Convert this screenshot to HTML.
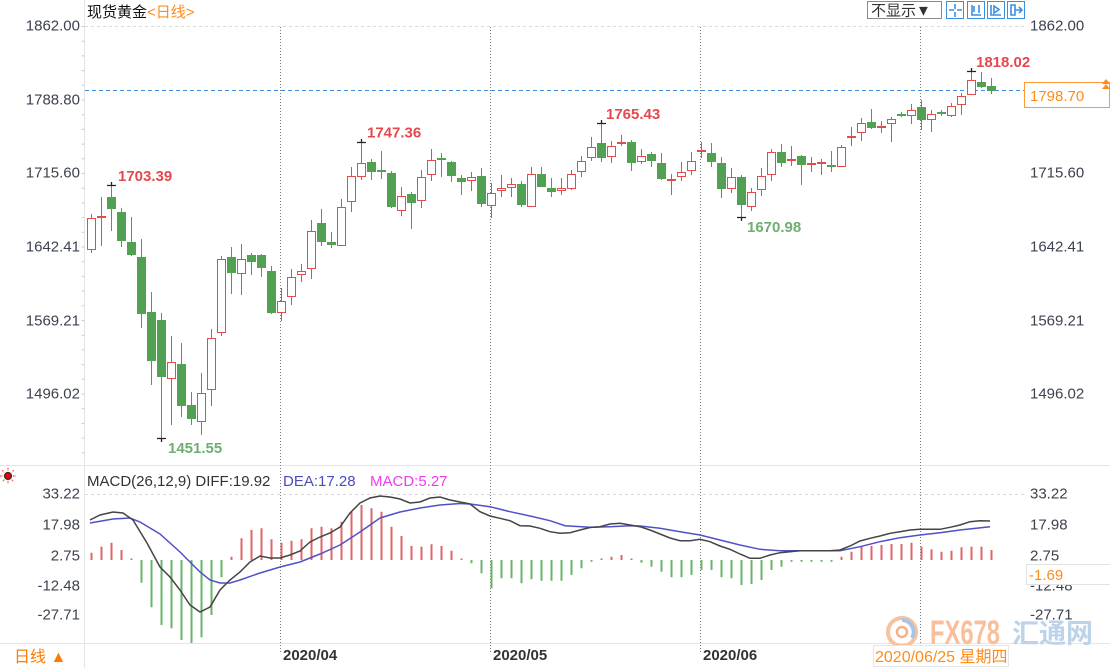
<!DOCTYPE html>
<html><head><meta charset="utf-8"><style>
html,body{margin:0;padding:0;background:#fff;}
svg{display:block;font-family:"Liberation Sans","Noto Sans CJK SC",sans-serif;}
.ax{font-size:15px;fill:#3c4250;}
</style></head><body>
<svg width="1110" height="668" viewBox="0 0 1110 668" xmlns="http://www.w3.org/2000/svg">
<rect width="1110" height="668" fill="#fff"/>
<line x1="84.5" y1="0" x2="84.5" y2="668" stroke="#e4e4e4"/>
<line x1="0" y1="465.5" x2="1110" y2="465.5" stroke="#e6e6e6"/>
<line x1="0" y1="643.5" x2="1110" y2="643.5" stroke="#e6e6e6"/>
<line x1="83" y1="26" x2="83" y2="465" stroke="#b8d2ec" stroke-width="3" stroke-dasharray="1 13.7"/>
<line x1="85" y1="26.5" x2="1024" y2="26.5" stroke="#d9d9d9" stroke-dasharray="3 3"/>
<line x1="85" y1="494.5" x2="1024" y2="494.5" stroke="#d9d9d9" stroke-dasharray="3 3"/>
<g stroke="#7a7a7a" stroke-dasharray="1 2">
<line x1="280.5" y1="27" x2="280.5" y2="652"/>
<line x1="490.5" y1="27" x2="490.5" y2="652"/>
<line x1="700.5" y1="27" x2="700.5" y2="652"/>
<line x1="920.5" y1="27" x2="920.5" y2="652"/>
</g>
<text x="87" y="17" font-size="15" fill="#111">现货黄金<tspan fill="#ff8c1a">&lt;日线&gt;</tspan></text>
<rect x="867.5" y="1.5" width="74" height="17" fill="#fff" stroke="#8a8a8a"/>
<text x="871" y="15.5" font-size="15" fill="#333">不显示▼</text>
<g fill="none" stroke="#3b8fe0" stroke-width="1">
<rect x="946.5" y="1.5" width="17" height="17"/>
<rect x="967.5" y="1.5" width="17" height="17"/>
<rect x="987.5" y="1.5" width="17" height="17"/>
<rect x="1007.5" y="1.5" width="17" height="17"/>
<path d="M955 4v5M955 12v5M949 10h5M957 10h5" stroke-width="1.6"/>
<path d="M972 5v10h9M974 6v6M979 5v8" stroke-width="1.6"/>
<path d="M991 5v10h10M994 6l5 3.5-5 3.5z" stroke-width="1.6"/>
<path d="M1011 5v10h4v-10zM1015 10h7M1019 7l3 3-3 3" stroke-width="1.6"/>
</g>
<g class="ax" text-anchor="end">
<text x="80" y="30.5">1862.00</text>
<text x="80" y="104.5">1788.80</text>
<text x="80" y="177.5">1715.60</text>
<text x="80" y="251.5">1642.41</text>
<text x="80" y="325.5">1569.21</text>
<text x="80" y="398.5">1496.02</text>
</g>
<g class="ax">
<text x="1030" y="30.5">1862.00</text>
<text x="1030" y="177.5">1715.60</text>
<text x="1030" y="251.5">1642.41</text>
<text x="1030" y="325.5">1569.21</text>
<text x="1030" y="398.5">1496.02</text>
</g>
<line x1="85" y1="90.5" x2="1024" y2="90.5" stroke="#3d8fe0" stroke-dasharray="4 3"/>
<rect x="1024.5" y="82.5" width="85" height="25" fill="#fff" stroke="#ff9a3c"/>
<text x="1030" y="101" font-size="15" fill="#ff8c1a">1798.70</text>
<path d="M1102 84l4-5 4 5zM1102 89l4-5 4 5z" fill="#ff8c1a"/>
<path fill="none" stroke="#4f9b4f" stroke-width="1" d="M111.5 185V231M121.5 208V247M131.5 217V256M141.5 239V328M151.5 292V385M161.5 313V438M181.5 343V417M191.5 392V425M231.5 247V294M251.5 253V275M261.5 254V277M271.5 266V314M321.5 209V246M331.5 232V248M371.5 159V180M381.5 151V179M391.5 171V208M411.5 192V229M441.5 153V177M451.5 161V182M461.5 175V195M481.5 168V207M521.5 181V207M541.5 167V187M551.5 178V197M601.5 123V162M631.5 140V171M651.5 152V167M661.5 153V180M711.5 143V167M721.5 157V198M741.5 175V217M781.5 144V167M801.5 155V185M831.5 151V172M871.5 109V129M901.5 112V117M921.5 100V130M941.5 110V116M981.5 72V88M991.5 78V94"/>
<g fill="#52a052">
<rect x="107" y="197" width="9" height="12"/>
<rect x="117" y="212" width="9" height="29"/>
<rect x="127" y="242" width="9" height="13"/>
<rect x="137" y="257" width="9" height="57"/>
<rect x="147" y="312" width="9" height="49"/>
<rect x="157" y="320" width="9" height="57"/>
<rect x="177" y="364" width="9" height="42"/>
<rect x="187" y="405" width="9" height="14"/>
<rect x="227" y="257" width="9" height="16"/>
<rect x="247" y="255" width="9" height="7"/>
<rect x="257" y="255" width="9" height="13"/>
<rect x="267" y="271" width="9" height="42"/>
<rect x="317" y="223" width="9" height="19"/>
<rect x="327" y="242" width="9" height="3"/>
<rect x="367" y="162" width="9" height="10"/>
<rect x="377" y="170" width="9" height="2"/>
<rect x="387" y="173" width="9" height="34"/>
<rect x="407" y="194" width="9" height="9"/>
<rect x="437" y="158" width="9" height="2"/>
<rect x="447" y="162" width="9" height="14"/>
<rect x="457" y="178" width="9" height="4"/>
<rect x="477" y="176" width="9" height="28"/>
<rect x="517" y="184" width="9" height="21"/>
<rect x="537" y="174" width="9" height="13"/>
<rect x="547" y="188" width="9" height="4"/>
<rect x="597" y="143" width="9" height="15"/>
<rect x="627" y="142" width="9" height="21"/>
<rect x="647" y="154" width="9" height="7"/>
<rect x="657" y="163" width="9" height="16"/>
<rect x="707" y="153" width="9" height="9"/>
<rect x="717" y="163" width="9" height="26"/>
<rect x="737" y="177" width="9" height="28"/>
<rect x="777" y="152" width="9" height="11"/>
<rect x="797" y="156" width="9" height="9"/>
<rect x="827" y="165" width="9" height="2"/>
<rect x="867" y="122" width="9" height="6"/>
<rect x="897" y="114" width="9" height="2"/>
<rect x="917" y="107" width="9" height="13"/>
<rect x="937" y="112" width="9" height="2"/>
<rect x="977" y="82" width="9" height="5"/>
<rect x="987" y="86" width="9" height="5"/>
</g>
<path fill="none" stroke="#e24c4c" stroke-width="1" d="M91.5 214V253M101.5 197V246M171.5 336V425M201.5 373V435M211.5 329V406M221.5 256V336M241.5 244V295M281.5 288V321M291.5 269V305M301.5 264V282M311.5 220V279M341.5 199V246M351.5 167V212M361.5 142V180M401.5 187V216M421.5 170V208M431.5 149V181M471.5 172V191M491.5 183V218M501.5 175V197M511.5 178V197M531.5 167V207M561.5 178V195M571.5 170V190M581.5 156V177M591.5 137V161M611.5 141V163M621.5 135V146M641.5 149V164M671.5 174V195M681.5 162V181M691.5 152V175M701.5 142V158M731.5 168V193M751.5 188V211M761.5 168V196M771.5 149V181M791.5 146V166M811.5 157V172M821.5 159V175M841.5 145V167M851.5 127V146M861.5 118V141M881.5 121V133M891.5 117V142M911.5 104V124M931.5 110V132M951.5 103V117M961.5 93V115M971.5 71V95"/>
<g fill="#fff" stroke="#e24c4c" stroke-width="1">
<rect x="87.5" y="218.5" width="8" height="31"/>
<rect x="97.5" y="216.5" width="8" height="1"/>
<rect x="167.5" y="362.5" width="8" height="16"/>
<rect x="197.5" y="393.5" width="8" height="28"/>
<rect x="207.5" y="338.5" width="8" height="51"/>
<rect x="217.5" y="259.5" width="8" height="73"/>
<rect x="237.5" y="259.5" width="8" height="14"/>
<rect x="277.5" y="301.5" width="8" height="11"/>
<rect x="287.5" y="277.5" width="8" height="19"/>
<rect x="297.5" y="271.5" width="8" height="3"/>
<rect x="307.5" y="231.5" width="8" height="37"/>
<rect x="337.5" y="207.5" width="8" height="38"/>
<rect x="347.5" y="176.5" width="8" height="25"/>
<rect x="357.5" y="163.5" width="8" height="13"/>
<rect x="397.5" y="196.5" width="8" height="14"/>
<rect x="417.5" y="177.5" width="8" height="23"/>
<rect x="427.5" y="160.5" width="8" height="14"/>
<rect x="467.5" y="177.5" width="8" height="3"/>
<rect x="487.5" y="193.5" width="8" height="12"/>
<rect x="497.5" y="188.5" width="8" height="2"/>
<rect x="507.5" y="184.5" width="8" height="3"/>
<rect x="527.5" y="174.5" width="8" height="32"/>
<rect x="557.5" y="188.5" width="8" height="2"/>
<rect x="567.5" y="174.5" width="8" height="14"/>
<rect x="577.5" y="161.5" width="8" height="10"/>
<rect x="587.5" y="147.5" width="8" height="10"/>
<rect x="607.5" y="146.5" width="8" height="10"/>
<rect x="617.5" y="142.5" width="8" height="1"/>
<rect x="637.5" y="156.5" width="8" height="5"/>
<rect x="667.5" y="179.5" width="8" height="1"/>
<rect x="677.5" y="172.5" width="8" height="4"/>
<rect x="687.5" y="161.5" width="8" height="9"/>
<rect x="697.5" y="150.5" width="8" height="1"/>
<rect x="727.5" y="177.5" width="8" height="11"/>
<rect x="747.5" y="192.5" width="8" height="14"/>
<rect x="757.5" y="176.5" width="8" height="13"/>
<rect x="767.5" y="152.5" width="8" height="22"/>
<rect x="787.5" y="159.5" width="8" height="1"/>
<rect x="807.5" y="163.5" width="8" height="1"/>
<rect x="817.5" y="162.5" width="8" height="1"/>
<rect x="837.5" y="147.5" width="8" height="19"/>
<rect x="847.5" y="136.5" width="8" height="1"/>
<rect x="857.5" y="123.5" width="8" height="9"/>
<rect x="877.5" y="126.5" width="8" height="1"/>
<rect x="887.5" y="119.5" width="8" height="4"/>
<rect x="907.5" y="110.5" width="8" height="5"/>
<rect x="927.5" y="114.5" width="8" height="5"/>
<rect x="947.5" y="106.5" width="8" height="9"/>
<rect x="957.5" y="96.5" width="8" height="8"/>
<rect x="967.5" y="80.5" width="8" height="14"/>
</g>
<path stroke="#222" stroke-width="1.3" fill="none" d="M107 185.5h9M111.5 182v4M157 438.5h9M161.5 438v4M357 142.5h9M361.5 139v4M597 123.5h9M601.5 120v4M737 217.5h9M741.5 217v4M967 71.5h9M971.5 68v4"/>
<g font-size="15" font-weight="bold">
<text x="118" y="181" fill="#e5484d">1703.39</text>
<text x="168" y="453" fill="#6fae6f">1451.55</text>
<text x="367" y="137.5" fill="#e5484d">1747.36</text>
<text x="606" y="119" fill="#e5484d">1765.43</text>
<text x="747" y="232" fill="#6fae6f">1670.98</text>
<text x="976" y="67" fill="#e5484d">1818.02</text>
</g>
<g transform="translate(8,476)">
<g stroke="#e22" stroke-width="1" stroke-dasharray="1.5 1">
<path d="M0 -8v3M0 5v3M-8 0h3M5 0h3M-5.7 -5.7l2 2M3.7 3.7l2 2M5.7 -5.7l-2 2M-3.7 3.7l-2 2"/>
</g>
<circle r="3.5" fill="#e00" stroke="#333" stroke-width="1.3"/>
</g>
<text x="87" y="486" font-size="15" fill="#333">MACD(26,12,9) DIFF:19.92</text>
<text x="283" y="486" font-size="15" fill="#4b4bbd">DEA:17.28</text>
<text x="370" y="486" font-size="15" fill="#f03cf0">MACD:5.27</text>
<g class="ax" text-anchor="end">
<text x="80" y="498.5">33.22</text>
<text x="80" y="529.5">17.98</text>
<text x="80" y="560.5">2.75</text>
<text x="80" y="590.5">-12.48</text>
<text x="80" y="619.5">-27.71</text>
</g>
<g>
<circle cx="902" cy="632" r="14" fill="none" stroke="#f6c2a0" stroke-width="4"/>
<path d="M902 620a12 12 0 0 1 10 18" fill="none" stroke="#a9c4e4" stroke-width="4"/>
<circle cx="902" cy="632" r="5" fill="none" stroke="#f3b08a" stroke-width="2.5"/>
<text x="930" y="644" font-size="34" font-weight="bold" fill="#f8bf9a" textLength="70" lengthAdjust="spacingAndGlyphs">FX678</text>
<text x="1012" y="643" font-size="27" font-weight="bold" fill="#bcd3ea" textLength="81" lengthAdjust="spacingAndGlyphs">汇通网</text>
</g>
<path fill="none" stroke="#e06565" stroke-width="2" d="M91.5 560V552.7M101.5 560V546.7M111.5 560V542.7M121.5 560V550M131.5 560V558.5M231.5 560V556.7M241.5 560V538.3M251.5 560V530M261.5 560V528.3M271.5 560V539.3M281.5 560V542.7M291.5 560V540.7M301.5 560V539.3M311.5 560V528.3M321.5 560V526.7M331.5 560V528.3M341.5 560V521.7M351.5 560V511.7M361.5 560V505M371.5 560V508.3M381.5 560V511.7M391.5 560V526.7M401.5 560V536M411.5 560V546M421.5 560V546.7M431.5 560V544.3M441.5 560V546M451.5 560V550.7M461.5 560V558.5M601.5 560V558.5M611.5 560V556.7M621.5 560V555M631.5 560V558.5M841.5 560V556.7M851.5 560V551.7M861.5 560V546M871.5 560V546M881.5 560V545M891.5 560V544M901.5 560V544M911.5 560V542.7M921.5 560V546.7M931.5 560V549.3M941.5 560V551.7M951.5 560V550.7M961.5 560V547.3M971.5 560V546.7M981.5 560V546.7M991.5 560V550"/>
<path fill="none" stroke="#6ab46a" stroke-width="2" d="M141.5 560V582.7M151.5 560V607.3M161.5 560V625M171.5 560V628.3M181.5 560V640M191.5 560V643M201.5 560V637.3M211.5 560V615M221.5 560V577.3M471.5 560V563.3M481.5 560V573.3M491.5 560V588.3M501.5 560V578.3M511.5 560V578.3M521.5 560V583.3M531.5 560V579.3M541.5 560V580.7M551.5 560V580.7M561.5 560V580.7M571.5 560V575M581.5 560V568.3M591.5 560V561.7M641.5 560V562.7M651.5 560V566.7M661.5 560V571.7M671.5 560V577.3M681.5 560V577.3M691.5 560V575M701.5 560V570M711.5 560V570M721.5 560V577.3M731.5 560V578.3M741.5 560V585M751.5 560V584M761.5 560V580M771.5 560V570M781.5 560V566.7M791.5 560V561.7M801.5 560V561.7M811.5 560V561.7M821.5 560V561.7M831.5 560V561.7"/>
<polyline fill="none" stroke="#5050c8" stroke-width="1.5" points="90,523 113,519 130,518 140,522 160,534 180,552 200,572 210,580 220,583 230,583 240,580 260,573 280,567 300,562 320,554 340,545 360,532 370,525 380,518 400,512 420,508 440,505 460,503.5 470,504 490,506.7 510,511.7 530,516 550,520.7 565,525.7 590,527.3 610,526.7 630,525.7 640,526 660,528.3 680,531.7 700,535 720,540 740,545 760,549.3 780,550.7 840,550.7 860,546.7 880,541.7 900,537.7 920,535 940,532.7 960,530 990,526.7"/>
<polyline fill="none" stroke="#444" stroke-width="1.5" points="90,520 100,515 113,512 123,513 133,520 147,543 160,567 170,577 180,590 190,605 200,612 210,607 220,590 230,580 240,572 250,562 260,556 270,558 280,558 290,555 300,551 310,542 320,537 330,533 340,527 350,513 360,503 370,498 380,496 390,497 400,499 410,503 420,502 430,498 440,497 450,500 460,502 470,504 480,511.7 490,516 500,518.3 510,520.7 520,525.7 530,526 540,528.3 550,531.7 560,533.3 570,532.7 580,530 590,527.5 600,526.7 610,524 620,523.3 630,525 640,526.7 650,530 660,534 670,538 680,540.7 690,540.7 700,539.3 710,541.7 720,546 730,549.3 740,554 750,558.3 760,558.3 770,555 780,552.7 790,551.7 800,550.7 830,550.7 840,550 850,546 860,541 870,538.3 880,536 890,533.3 900,531.7 910,530 920,529.3 940,529.3 950,527.3 960,525 970,521.7 980,520.7 990,521"/>
<g class="ax">
<text x="1030" y="498.5">33.22</text>
<text x="1030" y="529.5">17.98</text>
<text x="1030" y="560.5">2.75</text>
<text x="1030" y="590.5">-12.48</text>
<text x="1030" y="619.5">-27.71</text>
</g>
<rect x="1026.5" y="564.5" width="84" height="20" fill="#fff" stroke="#e2e2e2"/>
<text x="1029" y="580" font-size="15" fill="#ff8c1a">-1.69</text>
<text x="14" y="662" font-size="16" fill="#ff7a00">日线 ▲</text>
<g font-size="15" font-weight="bold" fill="#333">
<text x="283" y="660">2020/04</text>
<text x="493" y="660">2020/05</text>
<text x="703" y="660">2020/06</text>
</g>
<rect x="873.5" y="645.5" width="135" height="21" fill="#fff" stroke="#e6e6e6"/>
<text x="875" y="662" font-size="16" fill="#ff8c1a">2020/06/25 星期四</text>
</svg>
</body></html>
